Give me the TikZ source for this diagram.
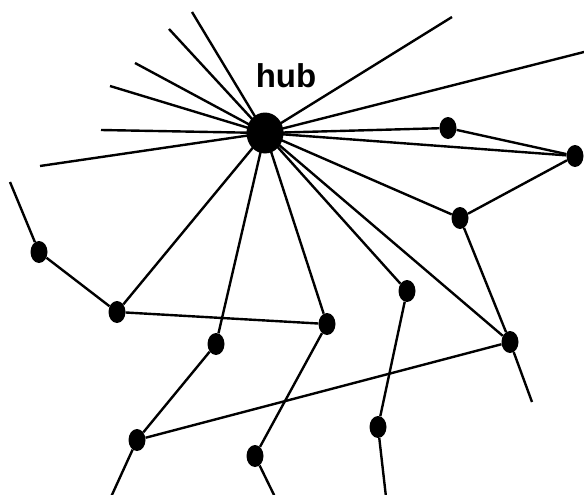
\documentclass[tikz,border=0pt]{standalone}
\usepackage{fontspec}
\setsansfont{Liberation Sans}
\usetikzlibrary{shapes.geometric}
\begin{document}
\begin{tikzpicture}[x={(1pt,0)},y={(0,-1pt)},
  dot/.style={ellipse,fill=black,draw=none,inner sep=0pt,minimum width=17pt,minimum height=22pt},
  hubdot/.style={ellipse,fill=black,draw=none,inner sep=0pt,minimum width=37pt,minimum height=41pt},
  edge/.style={line width=2.4pt,black},
  lbl/.style={font=\sffamily\bfseries\fontsize{33}{36}\selectfont,inner sep=0pt}]
\useasboundingbox[fill=white] (0,0) rectangle (584,495);
% nodes
\node[hubdot] (hub) at (265,133) {};
\node[lbl,anchor=base] (hublabel) at (286,88) {hub};
\node[dot] (A) at (448,128) {};
\node[dot] (B) at (575,156) {};
\node[dot] (C) at (460,218) {};
\node[dot] (D) at (117,312) {};
\node[dot] (I) at (39,252) {};
\node[dot] (E) at (216,344) {};
\node[dot] (F) at (327,324) {};
\node[dot] (G) at (407,291) {};
\node[dot] (H) at (510,342) {};
\node[dot] (J) at (137,440) {};
\node[dot] (K) at (255,456) {};
\node[dot] (L) at (378,427) {};
% free ends
\coordinate (s1) at (192,12);
\coordinate (s2) at (169,29);
\coordinate (s3) at (135,63);
\coordinate (s4) at (110,86);
\coordinate (s5) at (101,130);
\coordinate (s6) at (40,166);
\coordinate (s7) at (452,17);
\coordinate (s8) at (584,52);
\coordinate (fI) at (10,182);
\coordinate (fJ) at (111,497);
\coordinate (fK) at (275,497);
\coordinate (fL) at (386,497);
\coordinate (fH) at (532,402);
% hub spokes
\foreach \t in {s1,s2,s3,s4,s5,s6,s7,s8,A,B,C,D,E,F,G,H}
  \draw[edge] (hub.center) -- (\t);
% other edges
\draw[edge] (A) -- (B);
\draw[edge] (C) -- (B);
\draw[edge] (C) -- (H);
\draw[edge] (D) -- (I);
\draw[edge] (I) -- (fI);
\draw[edge] (D) -- (F);
\draw[edge] (E) -- (J);
\draw[edge] (J) -- (fJ);
\draw[edge] (J) -- (H);
\draw[edge] (F) -- (K);
\draw[edge] (K) -- (fK);
\draw[edge] (G) -- (L);
\draw[edge] (L) -- (fL);
\draw[edge] (H) -- (fH);
\end{tikzpicture}
\end{document}
